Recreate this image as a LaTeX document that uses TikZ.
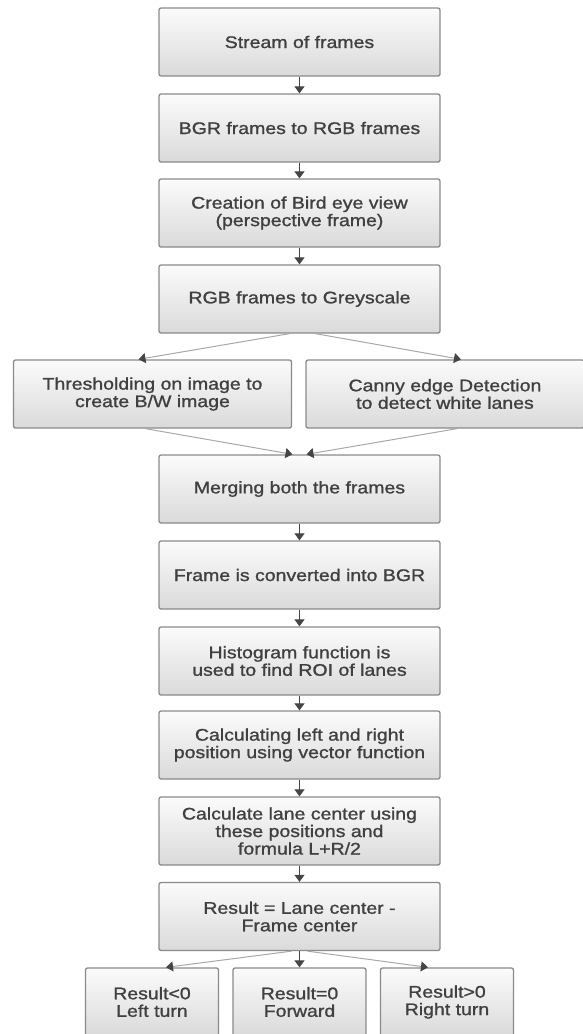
\documentclass[tikz,border=0pt]{standalone}
\usepackage{fontspec}
\setmainfont{Liberation Sans}[FakeStretch=1.16,FakeBold=1.2]
\usepackage{tikz}
\usetikzlibrary{arrows.meta}
\definecolor{boxline}{HTML}{8A8A8A}
\definecolor{boxtop}{HTML}{FBFBFB}
\definecolor{boxbot}{HTML}{DADADA}
\definecolor{txt}{HTML}{404040}
\definecolor{tip}{HTML}{454545}
\definecolor{thin}{HTML}{A8A8A8}

\begin{document}
\begin{tikzpicture}[x=1pt,y=-1pt,line width=1pt]
\tikzstyle{stepbox} = [draw=boxline,line width=1.3pt,rounded corners=2pt,top color=boxtop,bottom color=boxbot,text=txt,align=center,minimum height=68pt,inner sep=0pt,font=\fontsize{16.8}{17.5}\selectfont]
\tikzstyle{mainbox} = [stepbox,minimum width=281pt]
\tikzstyle{sidebox} = [stepbox,minimum width=278pt]
\tikzstyle{endbox} = [stepbox,minimum width=133pt]
\tikzstyle{go} = [draw=tip,-{Triangle[width=10pt,length=7pt]}]
\tikzstyle{fan} = [draw=thin,-{Triangle[width=10pt,length=7pt,color=tip]}]
\useasboundingbox (0,0) rectangle (583,1034);
\node[mainbox] (stream) at (299.5,42)  {Stream of frames};
\node[mainbox] (torgb) at (299.5,128) {BGR frames to RGB frames};
\node[mainbox] (bird) at (299.5,213) {Creation of Bird eye view\\(perspective frame)};
\node[mainbox] (grey) at (299.5,299) {RGB frames to Greyscale};
\node[sidebox] (thresh) at (152.5,394) {Thresholding on image to\\create B/W image};
\node[sidebox] (canny) at (445,394) {Canny edge Detection\\to detect white lanes};
\node[mainbox] (merge) at (299.5,489) {Merging both the frames};
\node[mainbox] (tobgr) at (299.5,575) {Frame is converted into BGR};
\node[mainbox] (hist) at (299.5,661) {Histogram function is\\used to find ROI of lanes};
\node[mainbox] (pos) at (299.5,745) {Calculating left and right\\position using vector function};
\node[mainbox] (center) at (299.5,831) {Calculate lane center using\\these positions and\\formula L+R/2};
\node[mainbox] (result) at (299.5,916.5) {Result = Lane center -\\Frame center};
\node[endbox] (left) at (152,1002) {Result<0\\Left turn};
\node[endbox] (fwd) at (299.5,1002) {Result=0\\Forward};
\node[endbox] (right) at (447,1002) {Result>0\\Right turn};
\draw[go] (stream) -- (torgb);
\draw[go] (torgb) -- (bird);
\draw[go] (bird) -- (grey);
\draw[fan] ([xshift=-10pt]grey.south) -- ([xshift=-14pt]thresh.north);
\draw[fan] ([xshift=16pt]grey.south) -- ([xshift=16pt]canny.north);
\draw[fan] ([xshift=-7pt]thresh.south) -- ([xshift=-7pt]merge.north);
\draw[fan] ([xshift=12pt]canny.south) -- ([xshift=7pt]merge.north);
\draw[go] (merge) -- (tobgr);
\draw[go] (tobgr) -- (hist);
\draw[go] (hist) -- (pos);
\draw[go] (pos) -- (center);
\draw[go] (center) -- (result);
\draw[fan] ([xshift=-8pt]result.south) -- ([xshift=14pt]left.north);
\draw[go] (result) -- (fwd);
\draw[fan] ([xshift=8pt]result.south) -- ([xshift=-19pt]right.north);
\end{tikzpicture}
\end{document}
